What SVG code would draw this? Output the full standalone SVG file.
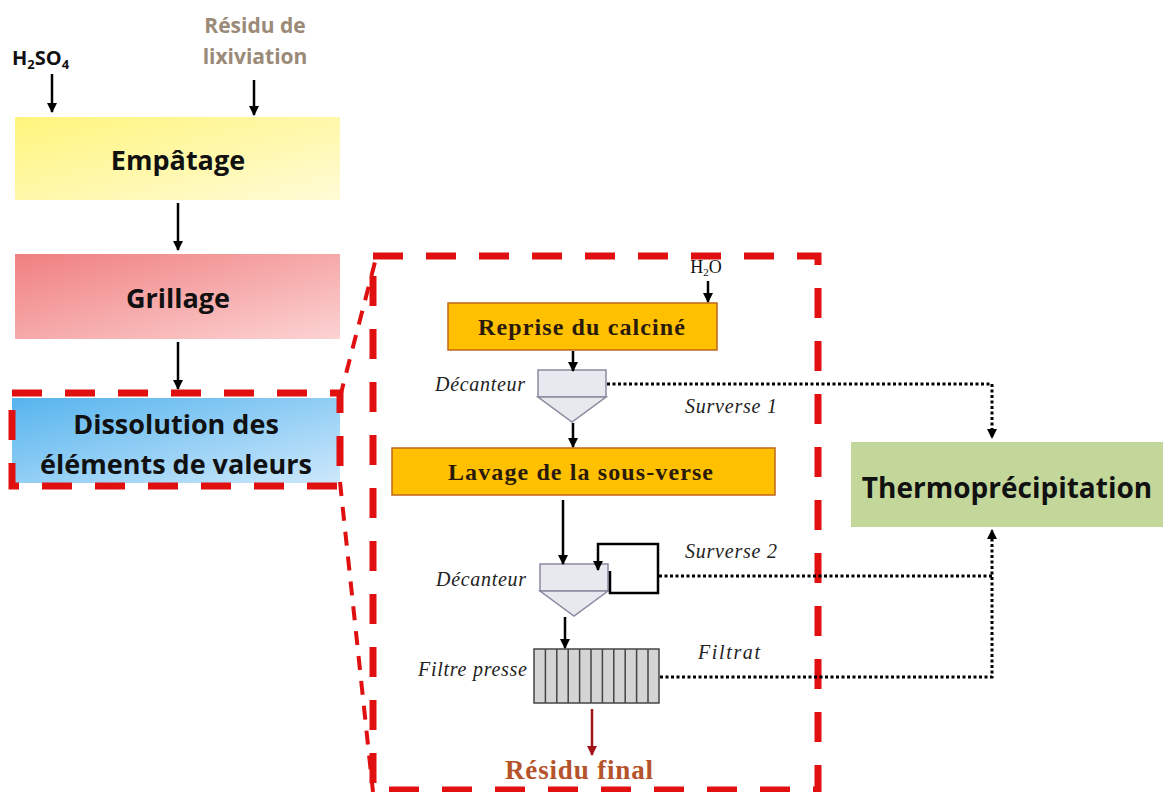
<svg xmlns="http://www.w3.org/2000/svg" width="1166" height="792" viewBox="0 0 1166 792">
<defs>
<linearGradient id="gY" x1="0" y1="0" x2="1" y2="1"><stop offset="0" stop-color="#fff57c"/><stop offset="1" stop-color="#fffbd6"/></linearGradient>
<linearGradient id="gR" x1="0" y1="0" x2="1" y2="1"><stop offset="0" stop-color="#f07f80"/><stop offset="1" stop-color="#fcd3d3"/></linearGradient>
<linearGradient id="gB" x1="0" y1="0" x2="1" y2="1"><stop offset="0" stop-color="#56b4ee"/><stop offset="1" stop-color="#cde8fb"/></linearGradient>
<marker id="ah" viewBox="0 0 10 10" refX="9" refY="5" markerWidth="4" markerHeight="4" orient="auto" markerUnits="strokeWidth"><path d="M0,0 L10,5 L0,10 z" fill="#000"/></marker>
<marker id="ahs" viewBox="0 0 10 10" refX="9" refY="5" markerWidth="3.5" markerHeight="3.5" orient="auto" markerUnits="strokeWidth"><path d="M0,0 L10,5 L0,10 z" fill="#000"/></marker>
<marker id="ahr" viewBox="0 0 10 10" refX="9" refY="5" markerWidth="4" markerHeight="4" orient="auto" markerUnits="strokeWidth"><path d="M0,0 L10,5 L0,10 z" fill="#a01418"/></marker>
</defs>
<style>
.sans{font-family:"Open Sans","Noto Sans","Liberation Sans",sans-serif;font-weight:bold;}
.big{font-size:27px;fill:#111;}
.serif{font-family:"Liberation Serif","DejaVu Serif",serif;}
.box{font-size:24px;font-weight:bold;fill:#2a1a0a;}
.it{font-style:italic;font-size:20px;fill:#222;}
.orange{fill:#ffc000;stroke:#c0661a;stroke-width:1.5;}
.dec{fill:#e8e8ef;stroke:#8a8aa0;stroke-width:1.5;}
.arr{stroke:#000;stroke-width:2.5;fill:none;marker-end:url(#ah);}
.dot{stroke:#000;stroke-width:3;fill:none;stroke-dasharray:3 2.5;}
.rdash{stroke:#e01010;stroke-width:7;fill:none;stroke-dasharray:30 23;}
.rthin{stroke:#e01010;stroke-width:4;fill:none;stroke-dasharray:14 11;}
</style>

<g id="input-h2so4">
<text x="12" y="65" class="sans" font-size="20" fill="#111">H<tspan font-size="13" dy="4">2</tspan><tspan dy="-4">SO</tspan><tspan font-size="13" dy="4">4</tspan></text>
</g>
<g id="input-residu">
<text class="sans" font-size="21" fill="#9b8a78" text-anchor="middle"><tspan x="255" y="33">Résidu de</tspan><tspan x="255" y="64">lixiviation</tspan></text>
</g>
<g id="empatage">
<rect x="15" y="117" width="325" height="83" fill="url(#gY)"/>
<text x="178" y="170" class="sans big" text-anchor="middle">Empâtage</text>
</g>
<g id="grillage">
<rect x="15" y="254" width="325" height="85" fill="url(#gR)"/>
<text x="178" y="308" class="sans big" text-anchor="middle">Grillage</text>
</g>
<g id="dissolution">
<rect x="12" y="398" width="328" height="85" fill="url(#gB)"/>
<text class="sans big" text-anchor="middle"><tspan x="176" y="434">Dissolution des</tspan><tspan x="176" y="474">éléments de valeurs</tspan></text>
<rect x="12" y="393" width="328" height="93" class="rdash"/>
</g>
<g id="zoom-frame">
<rect x="373" y="256" width="445" height="534" class="rdash"/>
<line x1="340" y1="397" x2="375" y2="262" class="rthin"/>
<line x1="340" y1="482" x2="373" y2="792" class="rthin"/>
</g>
<g id="h2o">
<text x="706" y="273" class="serif" font-size="18" fill="#111" text-anchor="middle">H<tspan font-size="11" dy="3">2</tspan><tspan dy="-3">O</tspan></text>
</g>
<g id="reprise">
<rect x="448" y="303" width="269" height="47" class="orange"/>
<text x="478" y="335" class="serif box" textLength="207" lengthAdjust="spacing">Reprise du calciné</text>
</g>
<g id="decanteur1">
<rect x="538" y="370" width="68" height="27" class="dec"/>
<path d="M538,397 L606,397 L572,422 Z" class="dec"/>
<text x="435" y="391" class="serif it" textLength="90" lengthAdjust="spacing">Décanteur</text>
</g>
<g id="lavage">
<rect x="392" y="448" width="383" height="47" class="orange"/>
<text x="448" y="480" class="serif box" textLength="265" lengthAdjust="spacing">Lavage de la sous-verse</text>
</g>
<g id="decanteur2">
<rect x="540" y="564" width="68" height="27" class="dec"/>
<path d="M540,591 L608,591 L574,616 Z" class="dec"/>
<text x="436" y="586" class="serif it" textLength="90" lengthAdjust="spacing">Décanteur</text>
</g>
<g id="filtre">
<rect x="534" y="649" width="125" height="54" fill="#d4d4d4" stroke="#444" stroke-width="1.5"/>
<path d="M545.4,649V703M556.8,649V703M568.2,649V703M579.6,649V703M591,649V703M602.4,649V703M613.8,649V703M625.2,649V703M636.6,649V703M648,649V703" stroke="#444" stroke-width="1.5"/>
<text x="418" y="676" class="serif it" textLength="109" lengthAdjust="spacing">Filtre presse</text>
</g>
<g id="residu-final">
<text x="505" y="779" class="serif" font-size="27" font-weight="bold" fill="#b5532a" textLength="148" lengthAdjust="spacing">Résidu final</text>
</g>
<g id="thermo">
<rect x="851" y="442" width="312" height="85" fill="#c4d79b"/>
<text x="1007" y="498" class="sans" font-size="28" fill="#111" text-anchor="middle">Thermoprécipitation</text>
</g>

<g id="connectors">
<line x1="52" y1="74" x2="52" y2="112" class="arr"/>
<line x1="254" y1="80" x2="254" y2="115" class="arr"/>
<line x1="178" y1="203" x2="178" y2="250" class="arr"/>
<line x1="178" y1="342" x2="178" y2="389" class="arr"/>
<line x1="708" y1="281" x2="708" y2="302" class="arr"/>
<line x1="573" y1="351" x2="573" y2="371" class="arr"/>
<line x1="573" y1="423" x2="573" y2="447" class="arr"/>
<line x1="563" y1="500" x2="563" y2="564" class="arr"/>
<line x1="565" y1="617" x2="565" y2="648" class="arr"/>
<path d="M610,571 V593 H658 V544 H598 V570" class="arr" stroke-width="3"/>
<line x1="592" y1="709" x2="592" y2="755" stroke="#a01418" stroke-width="2.5" marker-end="url(#ahr)"/>
<path d="M607,384 H992 V438" class="dot" marker-end="url(#ahs)"/>
<path d="M659,576 H992" class="dot"/>
<path d="M660,677 H992 V530" class="dot" marker-end="url(#ahs)"/>
<text x="685" y="413" class="serif it" textLength="92" lengthAdjust="spacing">Surverse 1</text>
<text x="685" y="558" class="serif it" textLength="92" lengthAdjust="spacing">Surverse 2</text>
<text x="698" y="659" class="serif it" textLength="62" lengthAdjust="spacing">Filtrat</text>
</g>
</svg>
